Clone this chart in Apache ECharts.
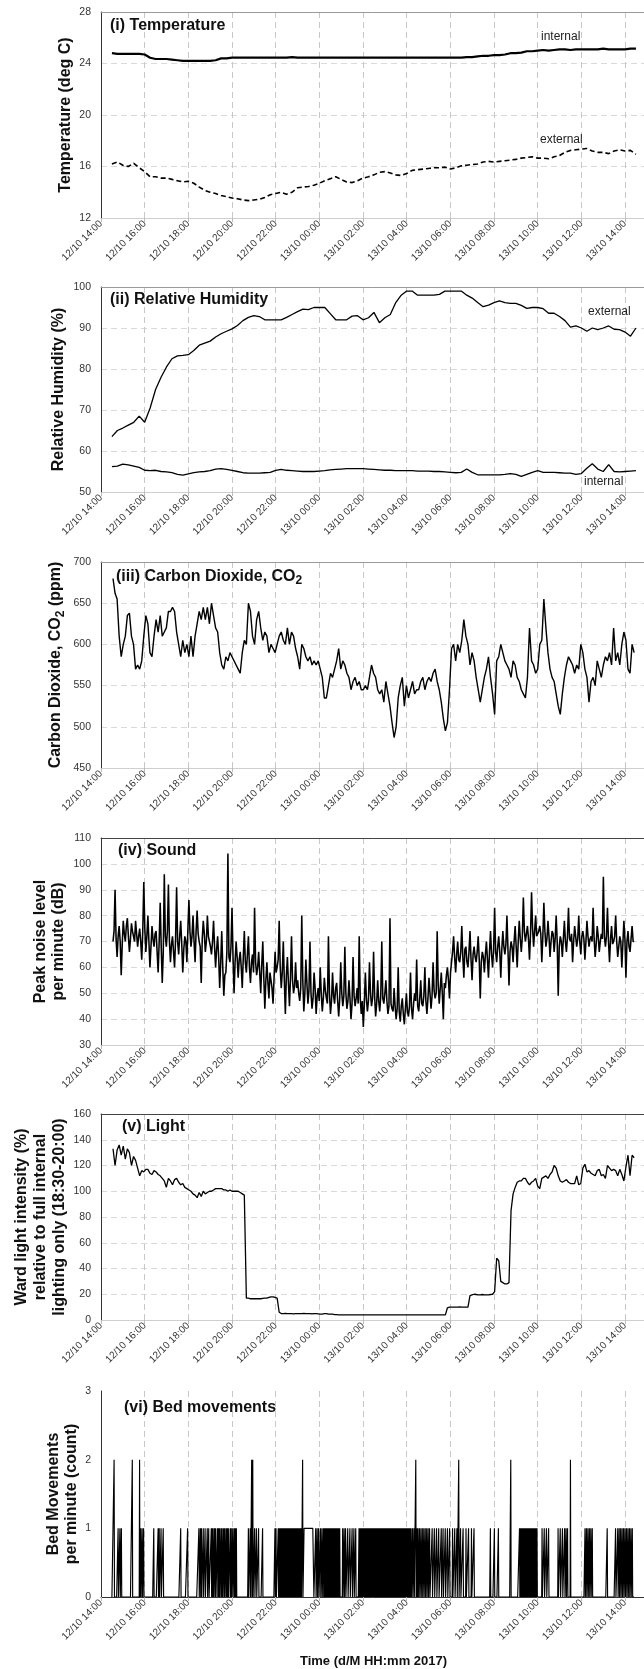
<!DOCTYPE html>
<html><head><meta charset="utf-8">
<script src="https://cdn.jsdelivr.net/npm/echarts@6/dist/echarts.min.js"></script>
<style>html,body{margin:0;padding:0;background:#fff}#c{width:644px;height:1669px}</style>
</head><body><div id="c"></div>
<script>
// ---------- tick labels (x axis, every 2 h from 12/10 14:00) ----------
const tickLabels = ['12/10 14:00','12/10 16:00','12/10 18:00','12/10 20:00','12/10 22:00','13/10 00:00','13/10 02:00','13/10 04:00','13/10 06:00','13/10 08:00','13/10 10:00','13/10 12:00','13/10 14:00'];

// time spans (hours after 12/10 14:00) of the evenly spaced readings
const slowStart = 0.5, slowEnd = 24.5;      // temperature & humidity, every 15 min
const fastStart = 0.55, fastEnd = 24.417;   // CO2, sound, light

// ---------- (i) temperature ----------
const tempInternal = [24.8,24.75,24.75,24.75,24.75,24.75,
 24.7,24.45,24.35,24.35,24.35,24.3,24.25,24.2,24.2,24.2,24.2,24.2,24.2,24.25,24.4,
 24.4,24.45,24.45,24.45,24.45,24.45,24.45,24.45,24.45,24.45,24.45,24.45,24.5,24.45,24.45,24.45,24.45,24.45,24.45,24.45,
 24.45,24.45,24.45,24.45,24.45,24.45,24.45,24.45,24.45,24.45,24.45,24.45,24.45,24.45,24.45,24.45,24.45,24.45,24.45,24.45,
 24.45,24.45,24.45,24.45,24.5,
 24.5,24.55,24.6,24.6,24.65,24.65,24.7,24.8,24.8,24.85,24.95,24.95,25.0,25.05,25.0,25.05,25.1,25.1,25.05,25.1,
 25.1,25.1,25.1,25.1,25.15,25.1,25.1,25.1,25.1,25.15,25.15];
const tempExternal = [16.2,16.35,16.1,16.0,16.25,15.9,15.6,15.2,15.2,15.1,
 15.1,15.0,14.9,14.8,14.85,14.7,14.4,14.15,14.0,13.9,
 13.75,13.65,13.55,13.5,13.4,13.35,13.4,13.45,13.6,13.8,
 13.9,14.0,13.85,14.0,14.35,14.4,14.45,14.55,14.7,14.9,
 15.05,15.2,15.0,14.8,14.75,14.9,15.1,15.2,15.35,15.55,
 15.6,15.5,15.35,15.3,15.45,15.7,15.75,15.8,15.85,15.9,
 15.9,15.95,15.8,15.9,16.05,16.1,16.15,16.2,16.35,16.4,
 16.35,16.4,16.45,16.5,16.55,16.65,16.7,16.75,16.65,16.65,
 16.6,16.75,16.85,17.1,17.25,17.3,17.35,17.4,17.2,17.1,
 17.1,17.0,17.2,17.3,17.2,17.25,16.95];

// ---------- (ii) relative humidity ----------
const rhExternal = [63.5,65.0,65.6,66.3,67.0,68.5,67.0,70.5,75.0,78.0,
 80.5,82.5,83.2,83.3,83.5,84.5,85.8,86.3,86.8,87.8,
 88.6,89.2,89.8,90.6,91.8,92.6,93.0,92.8,92.0,92.0,
 92.0,92.0,92.6,93.3,94.0,94.6,94.5,95.0,95.0,95.0,
 93.5,92.0,92.0,92.0,92.9,93.0,92.0,92.5,93.8,91.3,
 92.5,93.3,96.2,98.0,99.0,99.0,98.0,98.0,98.0,98.0,
 98.2,99.0,99.0,99.0,99.0,98.0,97.3,96.2,95.2,95.6,
 96.2,96.6,96.2,96.0,96.0,95.5,94.8,95.0,95.0,94.7,
 93.6,93.6,92.8,91.8,90.2,90.5,90.0,89.2,90.0,89.6,
 90.0,90.5,89.7,89.6,89.0,88.0,90.0];
const rhInternal = [56.2,56.3,56.8,56.6,56.3,56.0,55.3,55.2,55.3,55.0,
 54.9,54.7,54.3,54.1,54.4,54.7,54.9,55.0,55.2,55.6,
 55.7,55.5,55.3,55.0,54.7,54.6,54.6,54.6,54.7,54.8,
 55.3,55.5,55.3,55.2,55.1,55.0,55.0,55.0,55.1,55.2,
 55.4,55.5,55.6,55.7,55.7,55.7,55.7,55.6,55.5,55.4,
 55.3,55.3,55.2,55.2,55.2,55.2,55.1,55.1,55.1,55.0,
 55.0,54.9,54.8,54.7,54.8,55.6,54.8,54.2,54.2,54.2,
 54.2,54.2,54.3,54.5,54.3,53.8,54.3,54.8,55.2,54.8,
 54.8,54.8,54.7,54.6,54.6,54.3,54.5,55.8,56.9,55.6,
 55.0,56.7,55.0,54.9,55.0,55.1,55.2];

// ---------- (iii) CO2 (ppm) ----------
const co2 = [680,662,655,610,585,600,610,635,638,610,600,570,575,570,580,610,635,625,590,585,
 610,630,615,635,610,615,620,640,640,645,640,615,600,585,605,590,600,585,610,585,
 610,625,640,630,645,630,645,625,650,635,620,615,590,575,570,585,580,590,585,580,
 575,570,565,590,605,600,650,640,610,600,630,640,620,605,615,610,590,600,595,590,
 600,610,615,605,600,620,600,615,610,595,585,570,600,595,585,580,585,575,580,575,
 580,570,560,535,535,550,565,560,570,580,595,570,580,575,565,560,545,555,560,550,
 555,545,545,550,545,560,575,565,560,545,540,545,530,555,540,525,505,487,500,535,
 550,560,525,550,535,545,555,540,545,545,555,560,545,555,560,555,565,570,555,545,
 530,510,495,505,545,595,600,580,600,590,605,630,610,600,575,590,580,560,545,530,
 545,560,570,585,560,540,515,580,585,600,590,580,575,570,560,580,575,560,555,545,
 540,535,560,620,580,575,565,570,600,605,655,620,590,570,560,555,540,525,515,540,
 560,575,585,580,575,565,575,570,600,590,570,560,530,555,560,550,580,570,560,575,
 585,580,590,575,620,580,590,575,600,615,605,570,565,600,590];

// ---------- (iv) sound, peak dB per minute ----------
const sound = [70,74,90,71,64,72,76,70,57,69,78,73,
 70,76,79,72,66,71,77,74,72,70,78,73,68,72,75,70,63,74,93,75,
 66,72,80,70,60,68,76,71,68,73,74,66,58,70,85,68,54,66,96,72,
 68,74,92,70,62,69,72,66,60,71,91,70,65,72,78,69,58,67,72,70,62,75,
 86,74,68,72,80,70,62,74,82,73,70,68,54,71,78,73,66,70,80,72,70,68,
 65,70,78,68,60,67,72,64,52,62,74,60,49,57,58,66,104,64,62,68,83,64,
 50,62,70,64,56,63,66,60,52,64,74,62,58,65,72,60,54,62,65,58,
 83,62,57,60,66,58,50,61,70,56,44,55,62,54,48,58,58,52,46,56,66,58,
 60,63,78,60,52,58,70,55,42,57,64,54,45,56,72,55,50,53,62,52,55,50,
 47,52,80,55,43,50,63,54,46,51,70,50,44,48,58,52,42,49,52,47,
 60,50,43,48,56,51,48,46,72,50,42,47,58,49,46,52,54,47,41,48,62,50,
 45,49,68,50,44,47,55,48,40,46,64,49,45,48,52,46,72,48,42,47,
 37,46,58,48,43,47,62,50,45,48,66,49,41,46,55,47,43,49,70,48,46,50,
 55,47,42,45,79,46,44,43,52,45,40,44,60,43,39,45,48,42,38,44,50,43,
 41,45,58,44,40,46,50,47,63,45,43,48,55,46,45,49,60,47,42,48,
 56,50,44,49,62,51,48,50,74,53,46,52,58,50,40,54,52,57,60,55,48,58,
 62,66,72,64,58,65,70,63,62,66,76,64,56,67,68,62,60,66,74,63,55,65,
 68,64,62,66,72,63,48,62,66,64,58,65,70,63,56,66,74,65,60,67,83,66,
 62,68,72,66,56,67,74,68,65,69,80,67,53,66,70,68,62,70,76,68,
 60,70,78,71,66,72,87,74,70,73,76,71,63,73,89,75,68,74,80,72,72,74,
 76,73,62,72,85,74,68,71,78,72,64,70,74,73,66,71,80,70,49,68,
 72,70,64,71,78,70,66,72,83,71,70,73,62,70,76,72,68,71,80,70,65,72,
 74,71,63,70,78,72,68,71,72,70,83,71,64,69,76,72,66,70,73,71,95,72,
 68,72,83,70,62,71,76,69,70,72,80,70,64,68,72,70,60,69,78,71,
 56,70,74,68,66,71,76,70,70];

// ---------- (v) light, % ----------
const light = [133,120,132,136,128,135,125,133,130,120,
 127,124,118,112,116,115,117,117,114,113,
 116,115,113,112,110,108,103,110,108,105,
 109,110,107,105,106,103,102,101,100,98,
 97,95,99,96,100,98,99,100,100,101,
 102,102,102,102,101,101,100,101,100,100,
 100,100,99,98,97,
 17,17,16.5,16.5,16.5,16.5,16.5,16.5,16.8,17,17,17.5,18,18,17.5,17,
 6,
 5,5,5.2,5,5,5,4.8,5,5,5,5,5.2,5,5,5,4.8,5,5,4.8,4.5,
 4.5,5,5,4.5,4.5,4.5,4.2,4.2,4,
 4,4,4,4,4,4,4,4,4,4,4,4,4,4,4,4,4,4,4,4,4,4,4,4,4,4,
 4,4,4,4,4,4,4,4,4,4,4,4,4,4,4,4,4,4,4,4,4,4,4,4,4,4,
 9.5,
 10,10,10,10,10,10.2,10,10,10,10,
 19,
 19.5,20,19.8,19.5,19.5,19.8,19.5,19.5,19.5,19.8,20,
 22,
 48,46,30,
 29,28,28,29,
 85,98,
 103,107,108,108,110,110,107,105,107,108,
 110,104,102,110,111,112,110,113,115,120,
 118,112,108,107,108,109,107,106,106,106,
 112,105,106,118,121,115,116,114,113,112,
 116,117,112,113,110,120,118,116,117,116,
 112,117,113,108,119,128,112,128,126];

// ---------- (vi) bed movements: minutes after 12/10 14:00 ----------
const bedFirstMinute = 30, bedLastMinute = 1465;
const bedTwos = [36,86,106,414,417,554,865,983,1126,1290];
const bedRun = [558,584]; // continuous minutes at 1
const bedOnes = [47,52,56,109,113,117,145,157,160,165,171,219,238,269,273,276,281,286,
 292,296,303,305,308,312,315,320,323,326,330,333,337,340,344,347,350,355,358,362,366,369,372,
 405,410,422,427,433,444,478,481,487,
 490,493,495,498,500,503,505,508,511,513,516,518,521,524,526,529,532,534,537,540,542,545,548,550,
 590,594,598,603,607,611,
 614,617,619,622,624,627,629,632,634,637,640,642,645,648,650,653,656,
 664,668,672,678,684,690,695,700,
 709,712,714,717,719,722,724,727,730,732,735,737,740,743,745,748,750,753,756,758,761,763,766,769,771,774,
 776,779,782,784,787,789,792,795,797,800,802,805,808,810,813,815,818,821,823,826,828,831,834,836,839,841,844,847,849,
 852,856,860,868,871,875,879,883,887,891,895,899,903,
 910,916,922,928,935,940,946,952,958,
 966,972,978,988,995,1003,1010,1018,1025,
 1070,1081,1092,
 1150,1153,1156,1159,1162,1165,1168,1171,1174,1177,1180,1183,1186,1189,1192,1195,1198,
 1212,1218,1224,1230,
 1256,1262,1268,1274,1278,1282,
 1330,1334,1338,1342,1346,1350,
 1391,1414,
 1420,1424,1428,1432,1436,1440,1444,1448,1452,1456,1460];

// ---------- axis titles ----------
const yTitles = [
  'Temperature (deg C)',
  'Relative Humidity (%)',
  'Carbon Dioxide, CO{sub|2} (ppm)',
  'Peak noise level\nper minute (dB)',
  'Ward light intensity (%)\nrelative to full internal\nlighting only (18:30-20:00)',
  'Bed Movements\nper minute (count)'
];
const xTitle = 'Time (d/M HH:mm 2017)';

// ---------- helpers ----------
function spread(vals, h0, h1){ const n = vals.length; return vals.map((v,i)=>[h0+(h1-h0)*i/(n-1), v]); }
function bedSeries(){
  const counts = {};
  bedOnes.forEach(m=>counts[m]=1);
  for(let m=bedRun[0]; m<=bedRun[1]; m++) counts[m]=1;
  bedTwos.forEach(m=>counts[m]=2);
  const out=[];
  for(let m=bedFirstMinute; m<=bedLastMinute; m++) out.push([m/60, counts[m]||0]);
  return out;
}

const FONT = '"Liberation Sans", Arial, sans-serif';
const XMAX = 24.96;
const gridPos = [
  {top:12, height:206}, {top:287, height:205}, {top:562, height:206},
  {top:838, height:207}, {top:1114, height:206}, {top:1391, height:206}
];
const topBorder = ['#9a9a9a','#9a9a9a','#9a9a9a','#444','#444',null];

const grids = gridPos.map(g=>({left:101, right:-2, top:g.top, height:g.height, outerBoundsMode:'none', containLabel:false}));

const xAxes = [];
gridPos.forEach((g,i)=>{
  const ax = {
    gridIndex:i, type:'value', min:0, max:XMAX, interval:2,
    axisLine:{show:true, onZero:false, lineStyle:{color: i===5 ? '#333':'#cfcfcf', width:1}},
    axisTick:{show:true, length:5, lineStyle:{color:'#bbb', type:[4,3]}},
    splitLine:{show:true, lineStyle:{color:'#c8c8c8', type:[6,4], width:1}},
    axisLabel:{show:true, rotate:45, fontSize:10, color:'#333', margin:4, fontFamily:FONT, showMaxLabel:false, hideOverlap:false,
      formatter:function(v){ const k=Math.round(v/2); return (Math.abs(v-2*k)<1e-6 && k<tickLabels.length) ? tickLabels[k] : ''; }}
  };
  if(i===5){
    ax.name=xTitle; ax.nameLocation='middle'; ax.nameGap=58;
    ax.nameTextStyle={fontSize:13, fontWeight:'bold', color:'#111', fontFamily:FONT};
  }
  xAxes.push(ax);
});
gridPos.forEach((g,i)=>{
  if(!topBorder[i]) return;
  xAxes.push({gridIndex:i, type:'value', position:'top', min:0, max:XMAX,
    axisLine:{show:true, onZero:false, lineStyle:{color:topBorder[i], width:1}},
    axisTick:{show:false}, axisLabel:{show:false}, splitLine:{show:false}});
});

const yDefs = [
  {min:12, max:28, interval:4},
  {min:50, max:100, interval:10},
  {min:450, max:700, interval:50},
  {min:30, max:110, interval:10},
  {min:0, max:160, interval:20},
  {min:0, max:3, interval:1}
];
const yAxes = yDefs.map((d,i)=>({
  gridIndex:i, type:'value', min:d.min, max:d.max, interval:d.interval,
  axisLine:{show:true, onZero:false, lineStyle:{color:'#333', width:1}},
  axisTick:{show:false},
  splitLine:{show: i!==5, lineStyle:{color:'#dadada', type:[6,4], width:1}},
  axisLabel:{fontSize:10.5, color:'#333', margin:10, fontFamily:FONT}
}));

// vertical axis titles: centre x of each block (px from left)
const yTitleX = [65.5, 58.5, 56, 50, 41, 63];
const yTitleLH = [18, 18, 18, 18, 19, 18];
const subStyle = {fontSize:12, fontWeight:'bold', fill:'#111', fontFamily:FONT, padding:[9,0,0,0]};
const graphics = yTitles.map((t,i)=>({
  type:'text', x:yTitleX[i], y:gridPos[i].top + gridPos[i].height/2, rotation:Math.PI/2, silent:true,
  style:{text:t, fontSize:16, fontWeight:'bold', fontFamily:FONT, fill:'#111',
    align:'center', verticalAlign:'middle', textAlign:'center', textVerticalAlign:'middle',
    lineHeight:yTitleLH[i], rich:{sub:subStyle}}
}));

const titleStyle = {fontSize:16, fontWeight:'bold', color:'#111', fontFamily:FONT};
const labelStyle = {fontSize:12, fontWeight:'normal', color:'#222', fontFamily:FONT};
const titles = [
  {text:'(i) Temperature', left:110, top:18, textStyle:titleStyle},
  {text:'(ii) Relative Humidity', left:110, top:292, textStyle:titleStyle},
  {text:'(iii) Carbon Dioxide, CO{sub|2}', left:116, top:566, textStyle:Object.assign({}, titleStyle, {rich:{sub:{fontSize:12, fontWeight:'bold', color:'#111', fontFamily:FONT, padding:[9,0,0,0]}}})},
  {text:'(iv) Sound', left:118, top:843, textStyle:titleStyle},
  {text:'(v) Light', left:122, top:1119, textStyle:titleStyle},
  {text:'(vi) Bed movements', left:124, top:1400, textStyle:titleStyle},
  {text:'internal', left:541, top:31, textStyle:labelStyle},
  {text:'external', left:540, top:134, textStyle:labelStyle},
  {text:'external', left:588, top:306, textStyle:labelStyle},
  {text:'internal', left:584, top:476, textStyle:labelStyle}
].map(t=>Object.assign({padding:0, itemGap:0}, t));

function line(idx, data, w, dash){
  return {type:'line', xAxisIndex:idx, yAxisIndex:idx, data:data, showSymbol:false, symbol:'none',
    silent:true, animation:false, clip:true,
    lineStyle:{color:'#000', width:w, type: dash || 'solid'}};
}

const series = [
  line(0, spread(tempInternal, slowStart, slowEnd), 2.2),
  line(0, spread(tempExternal, slowStart, slowEnd), 1.6, [5,3]),
  line(1, spread(rhExternal, slowStart, slowEnd), 1.3),
  line(1, spread(rhInternal, slowStart, slowEnd), 1.3),
  line(2, spread(co2, fastStart, fastEnd), 1.4),
  line(3, spread(sound, fastStart, fastEnd), 1.55),
  line(4, spread(light, fastStart, fastEnd), 1.3),
  line(5, bedSeries(), 1.15)
];

const chart = echarts.init(document.getElementById('c'), null, {renderer:'canvas'});
chart.setOption({
  animation:false, backgroundColor:'#fff',
  title:titles, grid:grids, xAxis:xAxes, yAxis:yAxes, series:series, graphic:graphics
});
</script></body></html>
